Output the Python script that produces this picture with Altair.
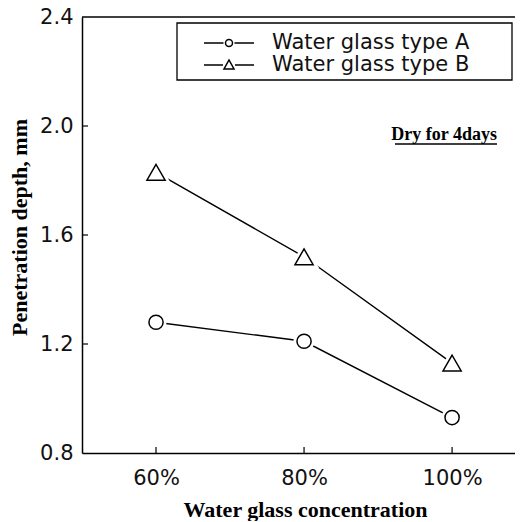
import altair as alt
import pandas as pd

concentration = [60, 80, 100]
type_a = [1.28, 1.21, 0.93]
type_b = [1.83, 1.52, 1.13]
series_names = ["Water glass type A", "Water glass type B"]
y_ticks = [0.8, 1.2, 1.6, 2.0, 2.4]

rows = []
for c, a, b in zip(concentration, type_a, type_b):
    rows.append({"conc": c, "depth": a, "series": series_names[0]})
    rows.append({"conc": c, "depth": b, "series": series_names[1]})
df = pd.DataFrame(rows)

W, H = 433, 436
xs = alt.Scale(domain=[50, 108.5], nice=False, zero=False)
ys = alt.Scale(domain=[0.8, 2.4], nice=False, zero=False)

x_enc = alt.X("conc:Q", scale=xs, axis=alt.Axis(
    values=concentration, labelExpr="datum.value + '%'", ticks=False,
    domain=True, domainColor="black", domainWidth=1.5,
    grid=False, labelFont="DejaVu Sans", labelFontSize=21, labelColor="#111",
    labelPadding=14, title="Water glass concentration", titleFont="Liberation Serif",
    titleFontWeight="bold", titleFontSize=22, titleColor="black",
    titleX=223, titleY=63, titleBaseline="alphabetic", titleAlign="center"))
y_enc = alt.Y("depth:Q", scale=ys, axis=alt.Axis(
    values=y_ticks, format=".1f", ticks=False,
    domain=True, domainColor="black", domainWidth=1.5, grid=False,
    labelFont="DejaVu Sans", labelFontSize=21, labelColor="#111", labelPadding=9,
    title="Penetration depth, mm", titleFont="Liberation Serif", titleFontWeight="bold",
    titleFontSize=22, titleColor="black", titleX=-63, titleY=210,
    titleBaseline="middle", titleAlign="center", titleAngle=-90))

shape_scale = alt.Scale(domain=series_names, range=["circle", "triangle-up"])
size_scale = alt.Scale(domain=series_names, range=[200, 330])

base = alt.Chart(df)

frame_top = alt.Chart(pd.DataFrame({"k": [0]})).mark_rule(
    color="black", strokeWidth=1.5).encode(
    x=alt.value(0), x2=alt.value(W), y=alt.value(0))

legend_box = alt.Chart(pd.DataFrame({"k": [0]})).mark_rect(
    fill="white", stroke="black", strokeWidth=1.3).encode(
    x=alt.value(95), x2=alt.value(430), y=alt.value(6), y2=alt.value(63))

lines = base.mark_line(color="black", strokeWidth=1.4).encode(
    x=x_enc, y=y_enc, detail="series:N")

halo = base.mark_point(filled=True, color="white", stroke="white", strokeWidth=7,
                       opacity=1).encode(
    x="conc:Q", y="depth:Q",
    shape=alt.Shape("series:N", scale=shape_scale, legend=None),
    size=alt.Size("series:N", scale=size_scale, legend=None))

markers = base.mark_point(fill="white", stroke="black", strokeWidth=1.5,
                          opacity=1).encode(
    x="conc:Q", y="depth:Q",
    shape=alt.Shape("series:N", scale=shape_scale, legend=None),
    size=alt.Size("series:N", scale=size_scale, legend=None))

path_a = ("M-2.5,0L-0.55,0M0.55,0L2.5,0"
          "M0.35,0A0.35,0.35,0,1,1,-0.35,0A0.35,0.35,0,1,1,0.35,0Z")
path_b = "M-2.5,0L-0.6,0M0.6,0L2.5,0M-0.5,0.4L0.5,0.4L0,-0.5Z"

legend_layer = base.mark_point(filled=False, color="black", opacity=0,
                               strokeWidth=1.5).encode(
    x="conc:Q", y="depth:Q",
    shape=alt.Shape("series:N", scale=alt.Scale(domain=series_names,
                                                range=[path_a, path_b]),
                    title=None,
                    legend=alt.Legend(
                        orient="none", legendX=95, legendY=7,
                        symbolOpacity=1, symbolSize=400, symbolStrokeWidth=1.5,
                        symbolStrokeColor="black", symbolFillColor="transparent",
                        symbolOffset=33,
                        labelFont="DejaVu Sans", labelFontSize=21, labelColor="#111",
                        labelOffset=32, rowPadding=1, padding=8,
                        labelLimit=400)))

ytick_rules = alt.Chart(pd.DataFrame({"v": y_ticks[1:-1]})).mark_rule(
    color="black", strokeWidth=1.2).encode(
    y=alt.Y("v:Q", scale=ys), x=alt.value(0), x2=alt.value(6))

xtick_rules = alt.Chart(pd.DataFrame({"c": concentration})).mark_rule(
    color="black", strokeWidth=1.2).encode(
    x=alt.X("c:Q", scale=xs), y=alt.value(H), y2=alt.value(H - 6))

note = alt.Chart(pd.DataFrame({"t": ["Dry for 4days"]})).mark_text(
    font="Liberation Serif", fontWeight="bold", fontSize=18, color="black",
    align="right", baseline="alphabetic").encode(
    text="t:N", x=alt.value(415), y=alt.value(123))

underline = alt.Chart(pd.DataFrame({"t": ["Dry for 4days"]})).mark_rule(
    color="black", strokeWidth=1.5).encode(
    x=alt.value(313), x2=alt.value(415), y=alt.value(127))

chart = alt.layer(frame_top, legend_box, lines, halo, markers, legend_layer,
                  ytick_rules, xtick_rules, note, underline).resolve_scale(
    shape="independent").properties(
    width=W, height=H,
    autosize=alt.AutoSizeParams(type="none"),
    padding={"left": 74, "top": 9, "right": 0, "bottom": 68},
    background="white",
).configure_view(strokeWidth=0)

chart.save("out.html", embed_options={"renderer": "svg", "actions": False})
